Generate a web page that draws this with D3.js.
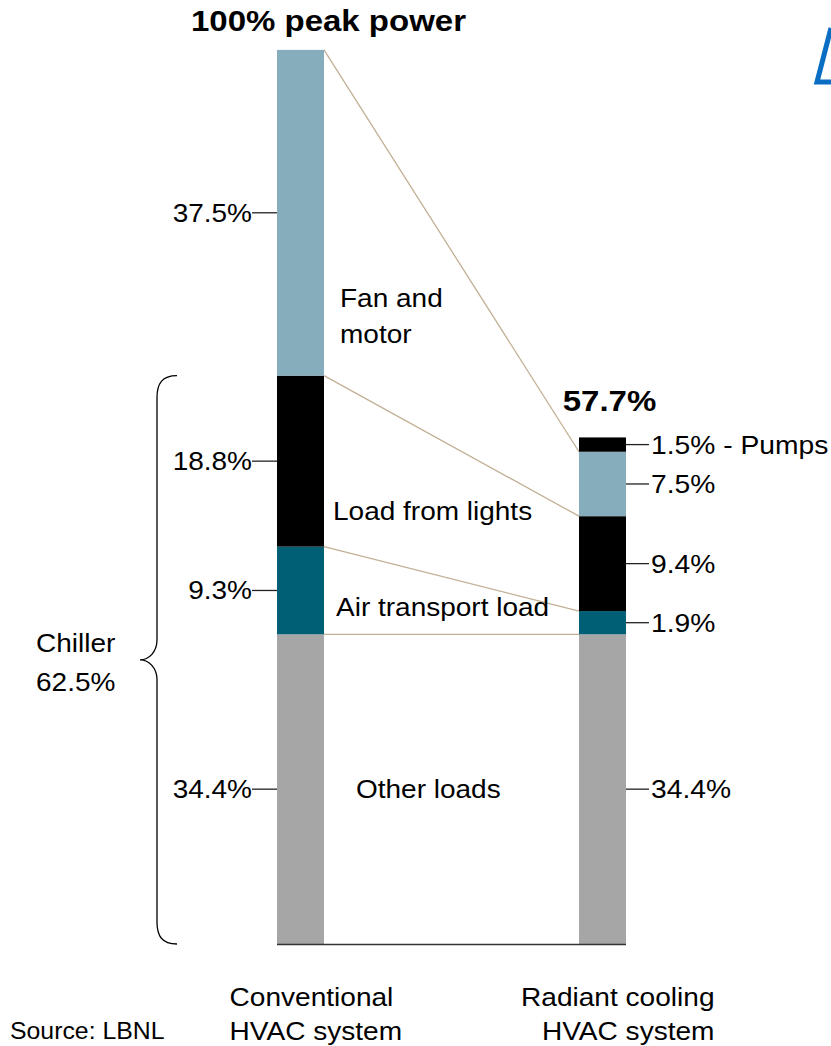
<!DOCTYPE html>
<html>
<head>
<meta charset="utf-8">
<script src="https://cdn.jsdelivr.net/npm/d3@7"></script>
<style>
  body { margin: 0; background: #fff; }
  text { font-family: "Liberation Sans", Arial, sans-serif; fill: #000; }
</style>
</head>
<body>
<div class="chart"></div>
<script>
// bar categories and stacked segments (bottom to top)
var categories = ["Conventional", "Radiant cooling"];
var segments = ["Other loads", "Air transport load", "Load from lights", "Fan and motor", "Pumps"];
var conventionalValues = [34.6, 9.8, 19.1, 36.4, 0];
var radiantValues = [34.6, 2.6, 10.6, 7.2, 1.6];
var conventionalLabels = ["34.4%", "9.3%", "18.8%", "37.5%", ""];
var radiantLabels = ["34.4%", "1.9%", "9.4%", "7.5%", "1.5% - Pumps"];
var totalLabels = ["100% peak power", "57.7%"];
var chillerLabel = ["Chiller", "62.5%"];
var categoryLabels = [["Conventional", "HVAC system"], ["Radiant cooling", "HVAC system"]];

var colors = {
    "Other loads": "#a6a6a6",
    "Air transport load": "#005f75",
    "Load from lights": "#000000",
    "Fan and motor": "#85adbb",
    "Pumps": "#000000"
};

var svgWidth = 831;
var svgHeight = 1046;

var svg = d3.select(".chart")
    .append("svg")
    .attr("width", svgWidth)
    .attr("height", svgHeight);

var yScale = d3.scaleLinear()
    .domain([0, 100])
    .range([944, 49]);

var barWidth = 47;
var xScale = d3.scalePoint()
    .domain(categories)
    .range([300.5, 602.5]);

// text in the original is a bit wider than Arial, so stretch it
function addText(x, y, str, size, anchor, weight, sx) {
    var g = svg.append("g")
        .attr("transform", `translate(${x}, ${y}) scale(${sx || 1.12}, 1)`);
    g.append("text")
        .attr("dy", "0.36em")
        .attr("text-anchor", anchor || "start")
        .attr("font-size", size + "px")
        .attr("font-weight", weight || "normal")
        .text(str);
    return g;
}

// stack each bar
function stackUp(values) {
    var acc = 0;
    return values.map(function (v, i) {
        var d = { key: segments[i], y0: acc, y1: acc + v, value: v };
        acc += v;
        return d;
    });
}
var stacks = [stackUp(conventionalValues), stackUp(radiantValues)];
var conv = stacks[0], rad = stacks[1];

// connector lines between matching segment tops
var links = [0, 1, 2, 3].map(function (i) {
    return { a: conv[i].y1, b: rad[i].y1 };
});
svg.selectAll(".link")
    .data(links)
    .enter()
    .append("line")
    .attr("class", "link")
    .attr("x1", xScale(categories[0]) + barWidth / 2)
    .attr("x2", xScale(categories[1]) - barWidth / 2)
    .attr("y1", d => yScale(d.a))
    .attr("y2", d => yScale(d.b))
    .attr("stroke", "#c2b095")
    .attr("stroke-width", 1.3);

// bars
stacks.forEach(function (stack, ci) {
    var cx = xScale(categories[ci]);
    svg.append("g")
        .selectAll("rect")
        .data(stack.filter(d => d.value > 0))
        .enter()
        .append("rect")
        .attr("x", cx - barWidth / 2)
        .attr("width", barWidth)
        .attr("y", d => yScale(d.y1))
        .attr("height", d => yScale(d.y0) - yScale(d.y1))
        .attr("fill", d => colors[d.key]);
});

// baseline
svg.append("line")
    .attr("x1", xScale(categories[0]) - barWidth / 2)
    .attr("x2", xScale(categories[1]) + barWidth / 2)
    .attr("y1", yScale(0) + 0.5)
    .attr("y2", yScale(0) + 0.5)
    .attr("stroke", "#333")
    .attr("stroke-width", 1.5);

// left value labels
var leftX = xScale(categories[0]) - barWidth / 2;
conv.forEach(function (d, i) {
    if (!conventionalLabels[i]) return;
    var ym = yScale((d.y0 + d.y1) / 2);
    svg.append("line")
        .attr("x1", leftX - 25).attr("x2", leftX)
        .attr("y1", ym).attr("y2", ym)
        .attr("stroke", "#222").attr("stroke-width", 1.3);
    addText(leftX - 25, ym, conventionalLabels[i], 25, "end");
});

// right value labels
var rightX = xScale(categories[1]) + barWidth / 2;
rad.forEach(function (d, i) {
    if (!radiantLabels[i]) return;
    var ym = yScale((d.y0 + d.y1) / 2);
    svg.append("line")
        .attr("x1", rightX).attr("x2", rightX + 23)
        .attr("y1", ym).attr("y2", ym)
        .attr("stroke", "#222").attr("stroke-width", 1.3);
    addText(rightX + 25, ym, radiantLabels[i], 25, "start", "normal", 1.13);
});

// segment names in the gap
var gapX = xScale(categories[0]) + barWidth / 2;
addText(gapX + 32, yScale((conv[0].y0 + conv[0].y1) / 2), "Other loads", 25);
addText(gapX + 12, yScale(conv[0].y1) - 27, "Air transport load", 25);
addText(gapX + 9, yScale(conv[1].y1) - 36, "Load from lights", 25);
addText(gapX + 16, yScale(conv[2].y1) - 78, "Fan and", 25);
addText(gapX + 16, yScale(conv[2].y1) - 42, "motor", 25);

// totals
addText(xScale(categories[0]) + 28, 20, totalLabels[0], 30, "middle", "bold", 1.1);
addText(xScale(categories[1]) + 7, yScale(d3.sum(radiantValues)) - 37, totalLabels[1], 30, "middle", "bold", 1.1);

// chiller brace
var bTop = yScale(conv[2].y1), bBot = yScale(0), bMid = (bTop + bBot) / 2;
var bx = 157;
var brace = d3.path();
brace.moveTo(bx + 20, bTop);
brace.bezierCurveTo(bx + 5, bTop, bx, bTop + 8, bx, bTop + 22);
brace.lineTo(bx, bMid - 20);
brace.bezierCurveTo(bx, bMid - 8, bx - 8, bMid, bx - 17, bMid);
brace.bezierCurveTo(bx - 8, bMid, bx, bMid + 8, bx, bMid + 20);
brace.lineTo(bx, bBot - 22);
brace.bezierCurveTo(bx, bBot - 8, bx + 5, bBot, bx + 20, bBot);
svg.append("path")
    .attr("d", brace.toString())
    .attr("fill", "none")
    .attr("stroke", "#000")
    .attr("stroke-width", 1.3);

chillerLabel.forEach(function (s, i) {
    addText(36, bMid - 17 + i * 39, s, 25);
});

// category labels
categoryLabels.forEach(function (lines, ci) {
    var anchor = ci === 0 ? "start" : "end";
    var x = ci === 0 ? xScale(categories[0]) - 71 : xScale(categories[1]) + 112;
    lines.forEach(function (s, k) {
        addText(x, 997 + k * 34, s, 26, anchor, "normal", 1.08);
    });
});

addText(10, 1031, "Source: LBNL", 23, "start", "normal", 1.08);

// logo fragment at top right
svg.append("path")
    .attr("d", "M833,82 L817,82 L831,28")
    .attr("fill", "none")
    .attr("stroke", "#0a6fc4")
    .attr("stroke-width", 5);
</script>
</body>
</html>
